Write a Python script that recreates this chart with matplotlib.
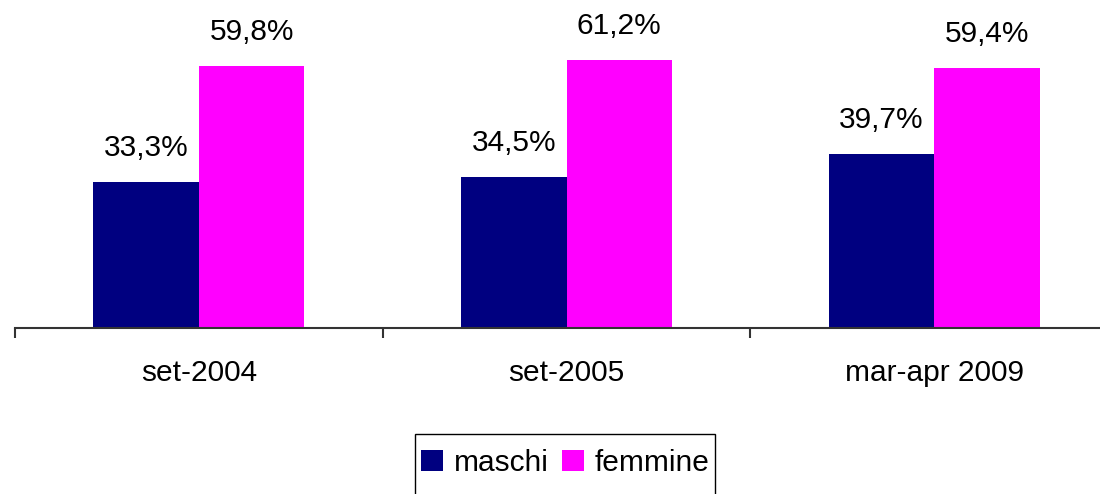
import matplotlib
matplotlib.use("Agg")
import matplotlib.pyplot as plt
from matplotlib.patches import Patch, Rectangle
import numpy as np

categories = ["set-2004", "set-2005", "mar-apr 2009"]
maschi = [33.3, 34.5, 39.7]
femmine = [59.8, 61.2, 59.4]
series_names = ["maschi", "femmine"]
colors = ["#000080", "#FF00FF"]

plt.rcParams['font.family'] = ['Liberation Sans', 'DejaVu Sans']
FS = 21.5

W, H = 1100, 494
fig = plt.figure(figsize=(W / 100, H / 100), dpi=100)
left_px, right_px, base_px = 15, 1118, 328
ymax = 70.0
top_px = base_px - ymax * 4.38
ax = fig.add_axes([left_px / W, (H - base_px) / H,
                   (right_px - left_px) / W, (base_px - top_px) / H])

x = np.arange(len(categories))
bw = 0.287
off = bw / 2
b1 = ax.bar(x - off, maschi, bw, color=colors[0], edgecolor='none')
b2 = ax.bar(x + off, femmine, bw, color=colors[1], edgecolor='none')

for bars, vals in ((b1, maschi), (b2, femmine)):
    for r, v in zip(bars, vals):
        ax.annotate(f"{v:.1f}%".replace('.', ','),
                    (r.get_x() + r.get_width() / 2, r.get_height()),
                    xytext=(0, 18.7), textcoords='offset points',
                    ha='center', va='baseline', fontsize=FS, color='black')

ax.set_xlim(-0.5, len(categories) - 0.5)
ax.set_ylim(0, ymax)
for s in ['top', 'right', 'left']:
    ax.spines[s].set_visible(False)
ax.spines['bottom'].set_color('#333333')
ax.spines['bottom'].set_linewidth(1.5)
ax.set_yticks([])
ax.set_xticks(x)
ax.set_xticklabels(categories, fontsize=FS)
ax.tick_params(axis='x', which='major', length=0, pad=22)
ax.set_xticks(np.arange(-0.5, len(categories), 1.0), minor=True)
ax.tick_params(axis='x', which='minor', length=7, width=1.5, color='#333333')

handles = [Patch(facecolor=colors[0], edgecolor='none'),
           Patch(facecolor=colors[1], edgecolor='none')]
leg = fig.legend(handles, series_names, loc='center left',
                 bbox_to_anchor=(421 / W, 1 - 463 / H), ncol=2,
                 fontsize=FS, frameon=False, borderaxespad=0, borderpad=0,
                 handlelength=0.73, handleheight=0.73, handletextpad=0.37,
                 columnspacing=0.45)
fig.add_artist(Rectangle((415 / W, 1 - 520 / H), 300 / W, 86 / H,
                         transform=fig.transFigure, fill=False,
                         edgecolor='black', linewidth=1.0))

fig.savefig("out.png", dpi=100)
